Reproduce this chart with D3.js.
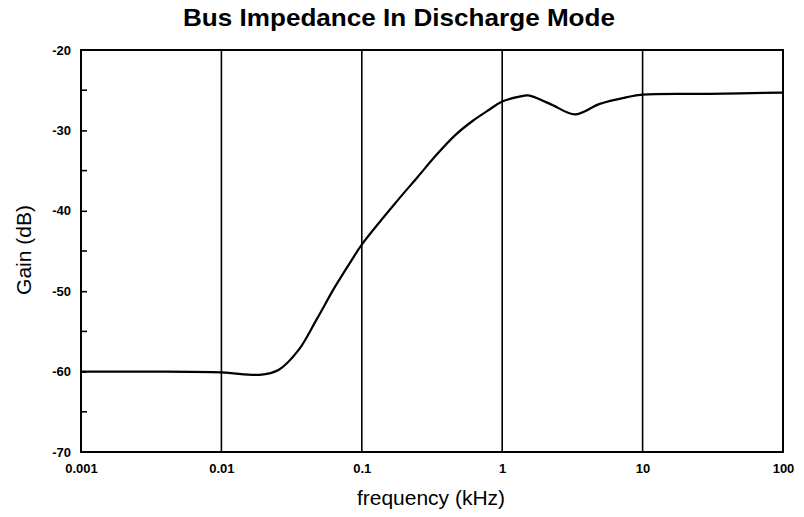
<!DOCTYPE html>
<html>
<head>
<meta charset="utf-8">
<script src="https://cdn.jsdelivr.net/npm/d3@7"></script>
<style>
  html, body { margin: 0; padding: 0; background: #fff; }
  svg { display: block; font-family: "Liberation Sans", Arial, Helvetica, sans-serif; }
</style>
</head>
<body>
<svg id="chart" width="804" height="517"></svg>
<script>
// Bus impedance response (discharge mode), gain in dB vs frequency in kHz
const freqKHz = [0.001, 0.003, 0.01, 0.0187, 0.0255, 0.0355, 0.0477, 0.0642, 0.0849, 0.1,
                 0.18, 0.25, 0.338, 0.469, 0.618, 0.813, 1, 1.33, 1.53,
                 2.19, 3.3, 4.95, 7.6, 10, 30, 100];
const gainDb  = [-60.0, -60.0, -60.1, -60.4, -59.8, -57.3, -53.5, -49.5, -46.1, -44.2,
                 -38.7, -35.8, -33.1, -30.5, -28.8, -27.4, -26.4, -25.8, -25.65,
                 -26.7, -28.0, -26.7, -25.9, -25.55, -25.45, -25.3];

const xTickValues = [0.001, 0.01, 0.1, 1, 10, 100];
const xTickLabels = ["0.001", "0.01", "0.1", "1", "10", "100"];
const yTickValues = [-70, -60, -50, -40, -30, -20];
const yMinorTicks = [-65, -55, -45, -35, -25];

const margin = { left: 81, right: 21, top: 50, bottom: 65 };
const width = 804, height = 517;
const svg = d3.select("#chart");

const x = d3.scaleLog().domain([0.001, 100]).range([margin.left, width - margin.right]);
const y = d3.scaleLinear().domain([-70, -20]).range([height - margin.bottom, margin.top]);

// Title
svg.append("text")
  .attr("x", 399).attr("y", 26)
  .attr("text-anchor", "middle")
  .attr("font-size", 24).attr("font-weight", "bold")
  .attr("textLength", 432).attr("lengthAdjust", "spacingAndGlyphs")
  .text("Bus Impedance In Discharge Mode");

// Vertical decade grid lines
svg.append("g").selectAll("line")
  .data(xTickValues.slice(1, -1))
  .join("line")
  .attr("x1", d => x(d)).attr("x2", d => x(d))
  .attr("y1", y(-20)).attr("y2", y(-70))
  .attr("stroke", "#000").attr("stroke-width", 1.6);

// Frame
svg.append("rect")
  .attr("x", x(0.001)).attr("y", y(-20))
  .attr("width", x(100) - x(0.001)).attr("height", y(-70) - y(-20))
  .attr("fill", "none").attr("stroke", "#000").attr("stroke-width", 2);

// Left axis: inward ticks, bold labels
const yAxis = d3.axisLeft(y).tickValues(yTickValues).tickSize(-6).tickPadding(10)
  .tickFormat(d => String(d).replace("\u2212", "-"));
const gy = svg.append("g").attr("transform", `translate(${x(0.001)},0)`).call(yAxis);
gy.select(".domain").remove();
gy.selectAll(".tick line").attr("stroke-width", 1.6);
gy.selectAll(".tick text").attr("font-size", 13).attr("font-weight", "bold")
  .attr("font-family", "Liberation Sans, Arial, sans-serif").attr("fill", "#000");
gy.selectAll(".tick").filter(d => d === -20 || d === -70).select("line").remove();

svg.append("g").selectAll("line")
  .data(yMinorTicks).join("line")
  .attr("x1", x(0.001)).attr("x2", x(0.001) + 6)
  .attr("y1", d => y(d)).attr("y2", d => y(d))
  .attr("stroke", "#000").attr("stroke-width", 1.6);

// Bottom axis labels
const xAxis = d3.axisBottom(x).tickValues(xTickValues).tickSize(0).tickPadding(12)
  .tickFormat((d, i) => xTickLabels[i]);
const gx = svg.append("g").attr("transform", `translate(0,${y(-70)})`).call(xAxis);
gx.select(".domain").remove();
gx.selectAll(".tick text").attr("font-size", 13).attr("font-weight", "bold")
  .attr("font-family", "Liberation Sans, Arial, sans-serif").attr("fill", "#000");

// Axis titles
svg.append("text")
  .attr("x", 431).attr("y", 505)
  .attr("text-anchor", "middle").attr("font-size", 21)
  .text("frequency (kHz)");
svg.append("text")
  .attr("transform", "translate(31,250) rotate(-90)")
  .attr("text-anchor", "middle").attr("font-size", 21)
  .text("Gain (dB)");

// Response curve
const pts = freqKHz.map((f, i) => [f, gainDb[i]]);
const line = d3.line().x(d => x(d[0])).y(d => y(d[1])).curve(d3.curveCatmullRom.alpha(0.5));
svg.append("path")
  .datum(pts)
  .attr("d", line)
  .attr("fill", "none").attr("stroke", "#000").attr("stroke-width", 2.2);
</script>
</body>
</html>
